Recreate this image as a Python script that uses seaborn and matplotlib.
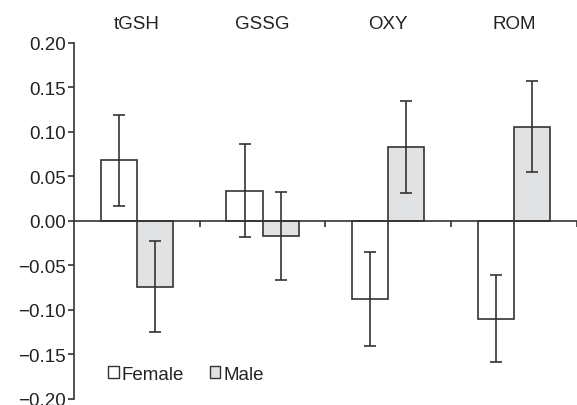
import matplotlib
matplotlib.use("Agg")
import numpy as np
import pandas as pd
import matplotlib.pyplot as plt
import seaborn as sns
from matplotlib.patches import Patch

# data
markers = ["tGSH", "GSSG", "OXY", "ROM"]
female = [0.068, 0.034, -0.088, -0.110]
male = [-0.074, -0.017, 0.083, 0.106]
female_err = [0.051, 0.052, 0.053, 0.049]
male_err = [0.051, 0.049, 0.052, 0.051]
yticks = [-0.20, -0.15, -0.10, -0.05, 0.00, 0.05, 0.10, 0.15, 0.20]

sns.set_style("ticks")
plt.rcParams['font.family'] = ['Liberation Sans', 'DejaVu Sans']

df = pd.DataFrame({
    "marker": markers * 2,
    "value": female + male,
    "sex": ["Female"] * 4 + ["Male"] * 4,
})

line_col = "#333333"
text_col = "#222222"
fs = 13.5
colors = {"Female": "white", "Male": "#e1e2e4"}

fig = plt.figure(figsize=(5.77, 4.06), dpi=100)
ax = fig.add_axes([0.128, 0.0148, 0.872, 0.877])

sns.barplot(data=df, x="marker", y="value", hue="sex", palette=colors,
            width=0.573, errorbar=None, edgecolor=line_col, linewidth=1.2,
            legend=False, ax=ax)

# error bars at bar centres
errs = {"Female": female_err, "Male": male_err}
vals = {"Female": female, "Male": male}
for cont, sex in zip(ax.containers, ["Female", "Male"]):
    xs = [p.get_x() + p.get_width() / 2 for p in cont.patches]
    ax.errorbar(xs, vals[sex], yerr=errs[sex], fmt="none", ecolor=line_col,
                elinewidth=1.2, capsize=4, capthick=1.2, zorder=5)

ax.set_xlim(-0.5, 3.5)
ax.set_ylim(-0.2, 0.2)
ax.set_yticks(yticks)
ax.set_yticklabels([f"{v:.2f}".replace("-", "\u2212") for v in yticks])
ax.set_xlabel("")
ax.set_ylabel("")

# zero line as x axis, ticks at category boundaries
ax.spines["top"].set_visible(False)
ax.spines["right"].set_visible(False)
ax.spines["bottom"].set_position(("data", 0))
ax.spines["bottom"].set_color(line_col)
ax.spines["bottom"].set_linewidth(1.2)
ax.spines["left"].set_color(line_col)
ax.spines["left"].set_linewidth(1.2)
ax.set_xticks([0.5, 1.5, 2.5, 3.5])
ax.set_xticklabels([])
ax.tick_params(axis="x", direction="out", length=4, width=1.2, color=line_col)
ax.tick_params(axis="y", direction="out", length=4, width=1.2, color=line_col,
               labelsize=fs, labelcolor=text_col, pad=2)

# category names on top
top = ax.secondary_xaxis("top")
top.set_xticks(range(len(markers)))
top.set_xticklabels(markers)
top.tick_params(length=0, labelsize=fs, labelcolor=text_col, pad=8)
top.spines["top"].set_visible(False)

handles = [Patch(facecolor=colors[s], edgecolor=line_col, linewidth=1, label=s)
           for s in ["Female", "Male"]]
ax.legend(handles=handles, loc="center left", bbox_to_anchor=(0.035, 0.07),
          ncol=2, frameon=False, fontsize=fs, handlelength=0.55, handleheight=0.55,
          handletextpad=0.15, columnspacing=1.4, labelcolor=text_col)

plt.savefig("out.png", dpi=100)
